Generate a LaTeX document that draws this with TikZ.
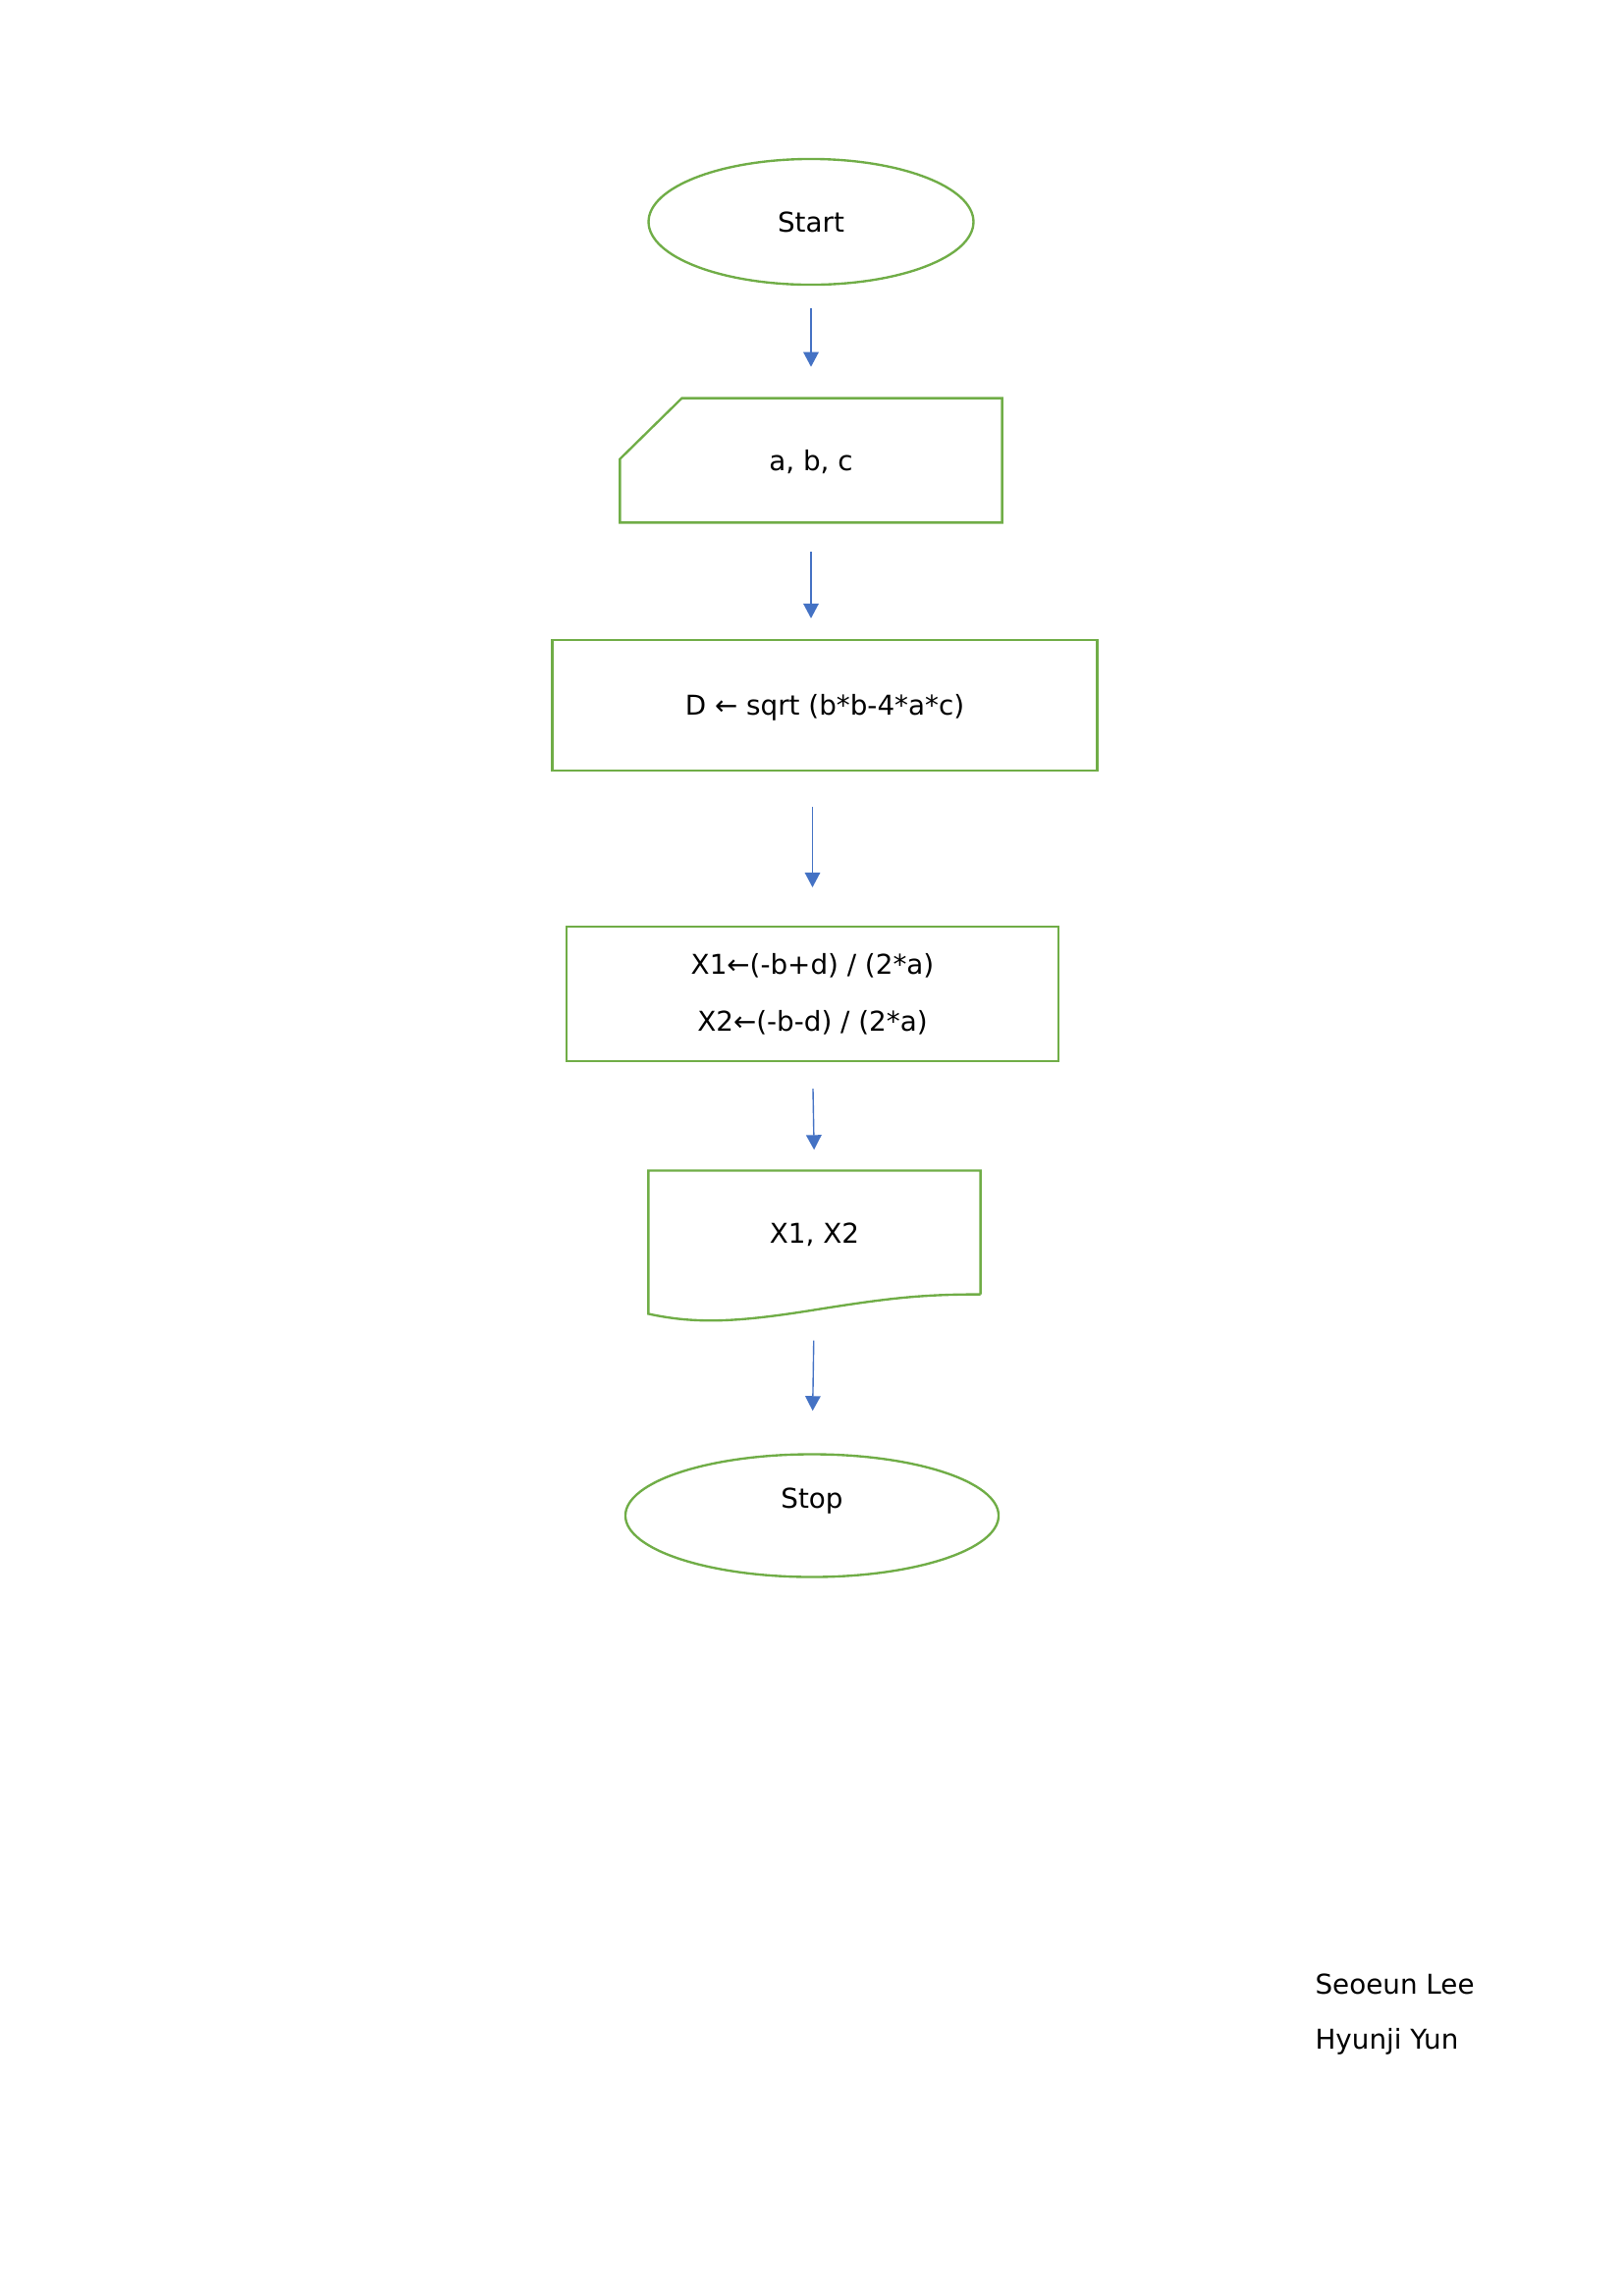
\documentclass[tikz,border=0pt]{standalone}
\usepackage{fontspec}
\setmainfont{DejaVu Sans}
\usetikzlibrary{shapes.geometric,arrows.meta}
\definecolor{boxgreen}{HTML}{70AD47}
\definecolor{flowblue}{HTML}{4472C4}

\begin{document}
\begin{tikzpicture}[x=0.3599pt, y=-0.3599pt,
    shapeline/.style={draw=boxgreen, line width=0.85pt},
    terminal/.style={shapeline, ellipse, inner sep=0pt},
    process/.style={shapeline, rectangle, inner sep=0pt},
    flow/.style={draw=flowblue, line width=0.5pt, -{Triangle[width=5.6pt,length=5.4pt]}}]
    \useasboundingbox (0,0) rectangle (1654,2339);
    % flowchart shapes
    \node[terminal, minimum width=119.1pt, minimum height=46.1pt] (start) at (826,226) {Start};
    \node[inner sep=0pt, minimum width=139.7pt, minimum height=45.2pt, text height=9pt] (input) at (826,469) {a, b, c};
    \draw[shapeline] ([xshift=22.7pt]input.north west) -- (input.north east) -- (input.south east)
        -- (input.south west) -- ([yshift=-22.3pt]input.north west) -- cycle;
    \node[process, minimum width=199.8pt, minimum height=47.7pt, text height=9pt] (calc) at (840,718.5) {D ← sqrt (b*b-4*a*c)};
    \node[process, minimum width=180.4pt, minimum height=49.3pt, align=center] (roots) at (827.5,1012.5)
        {X1←(-b+d) / (2*a)\\[9pt]X2←(-b-d) / (2*a)};
    \node[inner sep=0pt, minimum width=121.3pt, minimum height=45pt, text height=9pt] (output) at (829.5,1255.5) {X1, X2};
    \draw[shapeline] (output.south east) -- (output.north east) -- (output.north west) -- ++(0,146)
        .. controls +(50,11) and +(-75,12) .. ++(169,-4)
        .. controls +(75,-12) and +(-60,0) .. (output.south east);
    \node[terminal, minimum width=136.8pt, minimum height=45pt, text height=7.3pt, text depth=13pt] (stop) at (827,1544) {Stop};
    % arrows
    \draw[flow, shorten <=8.3pt, shorten >=11.5pt] (start.south) -- (input.north);
    \draw[flow, shorten <=10.8pt, shorten >=7.6pt] (input.south) -- (input.south |- calc.north);
    \draw[flow, shorten <=12.8pt, shorten >=14pt] (roots.north |- calc.south) -- (roots.north);
    \draw[flow, shorten <=9.7pt, shorten >=7.6pt] (roots.south) -- (output.north);
    \draw[flow, shorten <=16.9pt, shorten >=15.5pt] (output.south) -- (stop.north);
    % names
    \node[anchor=base west, inner sep=0pt] (author1) at (1339,2031) {Seoeun Lee};
    \node[anchor=base west, inner sep=0pt] (author2) at (1339,2087) {Hyunji Yun};
\end{tikzpicture}
\end{document}
